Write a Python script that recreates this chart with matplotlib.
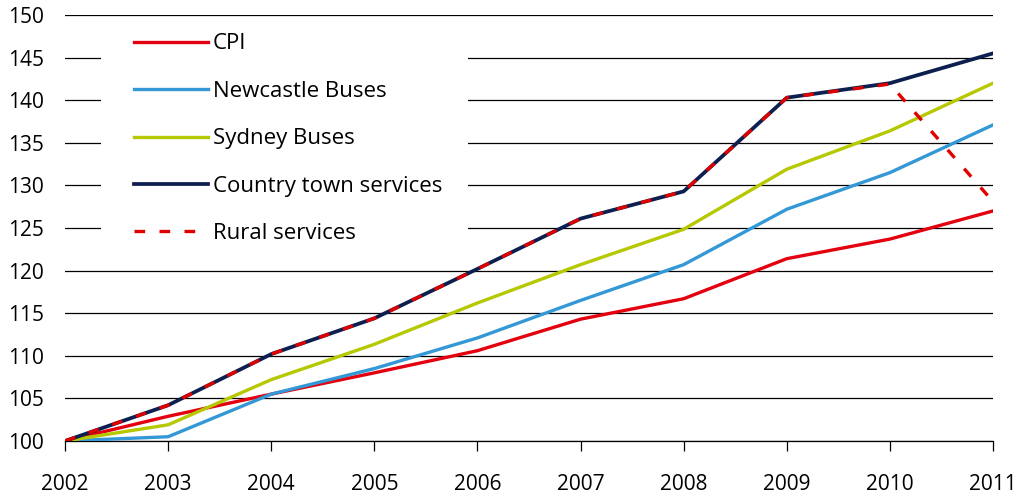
import matplotlib

matplotlib.use("Agg")
import matplotlib.pyplot as plt  # noqa: E402
from matplotlib.patches import Rectangle  # noqa: E402

years = [2002, 2003, 2004, 2005, 2006, 2007, 2008, 2009, 2010, 2011]
cpi = [100, 102.9, 105.5, 108.0, 110.6, 114.3, 116.7, 121.4, 123.7, 127.0]
newcastle = [100, 100.5, 105.5, 108.5, 112.1, 116.5, 120.7, 127.2, 131.5, 137.1]
sydney = [100, 101.9, 107.2, 111.35, 116.2, 120.7, 124.85, 131.9, 136.4, 142.0]
country = [100, 104.2, 110.2, 114.4, 120.2, 126.1, 129.3, 140.3, 142.0, 145.5]
rural = [100, 104.2, 110.2, 114.4, 120.2, 126.1, 129.3, 140.3, 141.9, 128.1]
yticks = [100, 105, 110, 115, 120, 125, 130, 135, 140, 145, 150]

plt.rcParams["font.family"] = ["Open Sans", "DejaVu Sans"]

fig = plt.figure(figsize=(10.19, 4.94), dpi=100)
ax = fig.add_axes([0.0638, 0.1073, 0.9107, 0.8623])

ax.plot(years, cpi, color="#e3000f", lw=2.4, label="CPI", zorder=3)
ax.plot(years, newcastle, color="#3398d5", lw=2.4, label="Newcastle Buses", zorder=3)
ax.plot(years, sydney, color="#b6c800", lw=2.4, label="Sydney Buses", zorder=3)
ax.plot(years, country, color="#0c1f4f", lw=2.7, label="Country town services", zorder=4)
ax.plot(years, rural, color="#e00000", lw=2.4, ls=(0, (3.2, 4.3)),
        label="Rural services", zorder=5)

ax.set_xlim(2002, 2011)
ax.set_ylim(100, 150)
ax.set_xticks(years)
ax.set_yticks(yticks)
ax.yaxis.grid(True, color="black", lw=0.9)
ax.set_axisbelow(True)
for side in ["top", "right", "left"]:
    ax.spines[side].set_visible(False)
ax.spines["bottom"].set_linewidth(0.9)
ax.tick_params(axis="y", length=0, pad=15, labelsize=15)
ax.tick_params(axis="x", length=7, width=0.9, direction="out", pad=17, labelsize=15)

# white block behind the legend breaks the gridlines, as in the original
ax.add_patch(Rectangle((0.0388, 0.448), 0.395, 0.5426, transform=ax.transAxes,
                       facecolor="white", edgecolor="none", zorder=1))
leg = ax.legend(loc="upper left", bbox_to_anchor=(0.0592, 0.9906), frameon=False,
                fontsize=16, handlelength=3.33, handletextpad=0.2, labelspacing=1.19,
                borderpad=0.15)
leg.set_zorder(2)

fig.savefig("out.png", dpi=100)
